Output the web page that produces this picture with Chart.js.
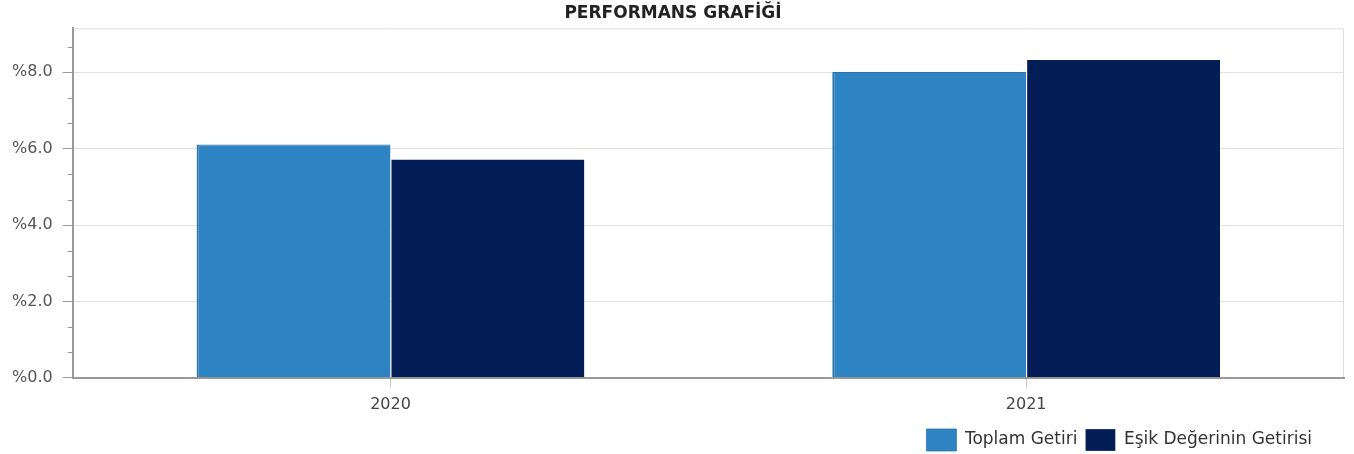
<!DOCTYPE html>
<html>
<head>
<meta charset="utf-8">
<script src="https://cdn.jsdelivr.net/npm/chart.js@4"></script>
<style>
  html, body { margin: 0; padding: 0; background: #fff; }
  #wrap { width: 1354px; height: 454px; }
</style>
</head>
<body>
<div id="wrap"><canvas id="perf"></canvas></div>
<script>
const years = ['2020', '2021'];
const toplamGetiri = [6.11, 8.01];
const esikGetirisi = [5.72, 8.32];
const yTicks = [0, 2, 4, 6, 8];

const FONT = 'DejaVu Sans, Verdana, sans-serif';

// frame + minor ticks on the y axis, legend nudged left
const framePlugin = {
  id: 'frame',
  afterLayout(chart) {
    if (chart.legend) {
      chart.legend.left -= 24;
      chart.legend.right -= 24;
    }
  },
  beforeDraw(chart) {
    const { ctx, chartArea: a } = chart;
    ctx.save();
    ctx.strokeStyle = '#dcdcdc';
    ctx.lineWidth = 1;
    ctx.beginPath();
    ctx.moveTo(a.left, a.top + 0.5);
    ctx.lineTo(a.right - 0.5, a.top + 0.5);
    ctx.lineTo(a.right - 0.5, a.bottom);
    ctx.stroke();
    ctx.restore();
  },
  afterDraw(chart) {
    const { ctx, chartArea: a } = chart;
    const y = chart.scales.y;
    ctx.save();
    ctx.strokeStyle = '#999';
    ctx.lineWidth = 1;
    for (let i = 0; i < yTicks.length; i++) {
      const v = yTicks[i];
      [v + 2 / 3, v + 4 / 3].forEach(m => {
        if (m > y.max) return;
        const p = Math.round(y.getPixelForValue(m)) + 0.5;
        ctx.beginPath();
        ctx.moveTo(a.left - 5, p);
        ctx.lineTo(a.left, p);
        ctx.stroke();
      });
    }
    ctx.restore();
  }
};

new Chart(document.getElementById('perf'), {
  type: 'bar',
  data: {
    labels: years,
    datasets: [
      {
        label: 'Toplam Getiri',
        data: toplamGetiri,
        backgroundColor: '#2e84c2',
        borderColor: '#2a73ab',
        borderWidth: { left: 2, top: 1 },
        borderSkipped: 'bottom',
      },
      {
        label: 'Eşik Değerinin Getirisi',
        data: esikGetirisi,
        backgroundColor: '#031e57',
        borderColor: '#ffffff',
        borderWidth: { left: 1 },
        borderSkipped: 'bottom',
      },
    ],
  },
  options: {
    responsive: true,
    maintainAspectRatio: false,
    animation: false,
    layout: { padding: { left: 2, right: 10, top: 0, bottom: -7 } },
    datasets: {
      bar: { barPercentage: 1, categoryPercentage: 0.61 },
    },
    plugins: {
      title: {
        display: true,
        text: 'PERFORMANS GRAFİĞİ',
        color: '#222',
        font: { family: FONT, size: 17, weight: 'bold' },
        padding: { top: 3, bottom: 5 },
      },
      legend: {
        position: 'bottom',
        align: 'end',
        labels: {
          boxWidth: 30,
          boxHeight: 22,
          padding: 8,
          color: '#333',
          font: { family: FONT, size: 17 },
        },
      },
      tooltip: { enabled: false },
    },
    scales: {
      x: {
        grid: {
          offset: false,
          drawOnChartArea: false,
          tickLength: 10,
          color: '#ccc',
        },
        border: { color: '#999', width: 2 },
        ticks: {
          color: '#444',
          padding: 7,
          font: { family: FONT, size: 16 },
        },
      },
      y: {
        min: 0,
        max: 9.15,
        afterBuildTicks(scale) {
          scale.ticks = yTicks.map(v => ({ value: v }));
        },
        grid: {
          color: '#e2e2e2',
          tickColor: '#999',
          tickLength: 10,
        },
        border: { color: '#999', width: 2 },
        ticks: {
          color: '#555',
          padding: 10,
          font: { family: FONT, size: 16 },
          callback: v => '%' + Number(v).toFixed(1),
        },
      },
    },
  },
  plugins: [framePlugin],
});
</script>
</body>
</html>
